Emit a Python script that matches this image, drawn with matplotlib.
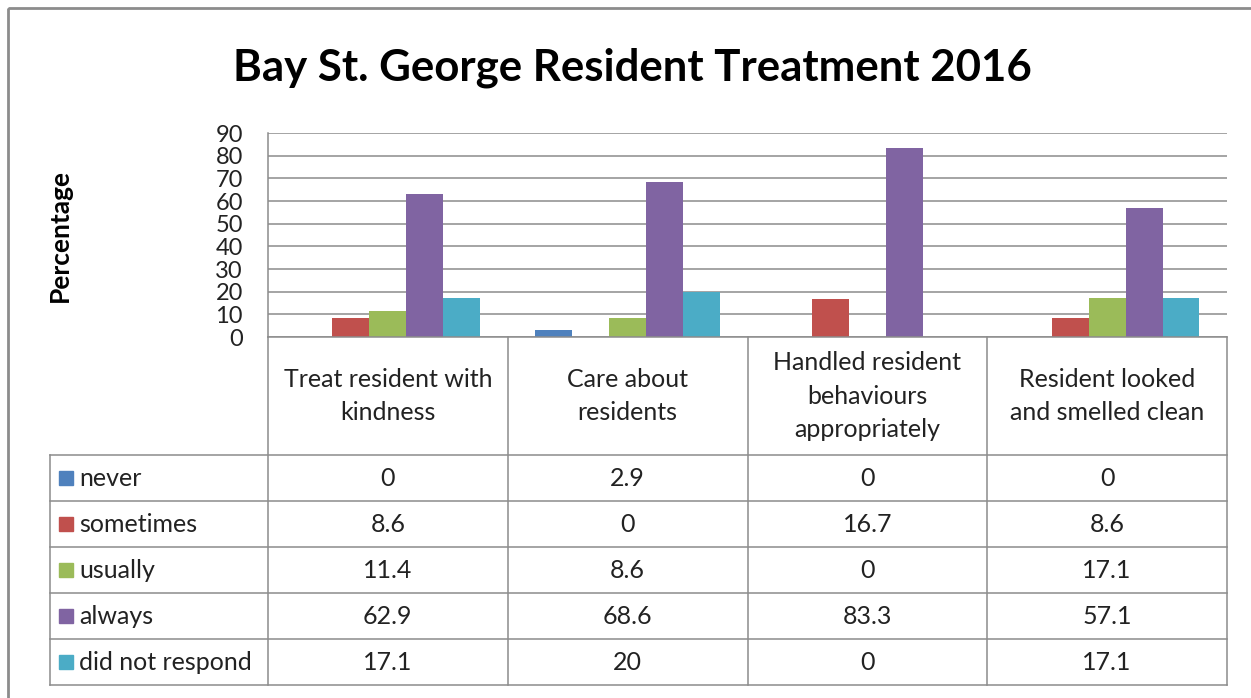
import matplotlib.pyplot as plt
from matplotlib.patches import Rectangle

categories = ["Treat resident with\nkindness", "Care about\nresidents",
              "Handled resident\nbehaviours\nappropriately",
              "Resident looked\nand smelled clean"]
series = ["never", "sometimes", "usually", "always", "did not respond"]
values = [
    [0, 2.9, 0, 0],
    [8.6, 0, 16.7, 8.6],
    [11.4, 8.6, 0, 17.1],
    [62.9, 68.6, 83.3, 57.1],
    [17.1, 20, 0, 17.1],
]
labels = [["0", "2.9", "0", "0"],
          ["8.6", "0", "16.7", "8.6"],
          ["11.4", "8.6", "0", "17.1"],
          ["62.9", "68.6", "83.3", "57.1"],
          ["17.1", "20", "0", "17.1"]]
colors = ["#4F81BD", "#C0504D", "#9BBB59", "#8064A2", "#4BACC6"]
yticks = list(range(0, 100, 10))

plt.rcParams['font.family'] = ['Lato', 'DejaVu Sans']
txt_col = "#222222"

W, H = 1251, 698
fig = plt.figure(figsize=(W / 100, H / 100), dpi=100)

# plot area in pixel coordinates
left, right, top, bottom = 268, 1227, 133, 337
ax = fig.add_axes([left / W, 1 - bottom / H, (right - left) / W, (bottom - top) / H])
bw = 0.154
for i, (name, vals) in enumerate(zip(series, values)):
    xs = [j + (i - 2) * bw for j in range(len(vals))]
    ax.bar(xs, vals, width=bw, color=colors[i], zorder=3)
ax.set_xlim(-0.5, len(categories) - 0.5)
ax.set_ylim(0, 90)
ax.set_yticks(yticks)
ax.set_yticklabels([str(t) for t in yticks], fontsize=17, color=txt_col)
ax.tick_params(axis='y', length=0, pad=18)
ax.set_xticks([])
ax.grid(axis='y', color="#8c8c8c", linewidth=1.1, zorder=0)
for s in ["top", "right", "bottom"]:
    ax.spines[s].set_visible(False)
ax.spines["left"].set_color("#8c8c8c")
ax.spines["left"].set_linewidth(1.1)

# overlay for border, title and data table, in pixel units
ov = fig.add_axes([0, 0, 1, 1], facecolor="none")
ov.set_xlim(0, W)
ov.set_ylim(H, 0)
ov.axis("off")
ov.add_patch(Rectangle((8, 8), W + 20, H + 20, fill=False, edgecolor="#8c8c8c", linewidth=2))
ov.text(632, 68, "Bay St. George Resident Treatment 2016", fontsize=31.5, fontweight="bold",
        ha="center", va="center")
ov.text(60, 235, "Percentage", fontsize=19, fontweight="bold", rotation=90,
        ha="center", va="center")

lc, lw = "#8c8c8c", 1.1
col_x = [left + k * (right - left) / len(categories) for k in range(len(categories) + 1)]
head_bot = 455
row_h = (685 - head_bot) / len(series)
row_y = [head_bot + k * row_h for k in range(len(series) + 1)]
tab_left = 50

# table grid
ov.plot([left, right], [bottom, bottom], color=lc, lw=lw)
for x in col_x:
    ov.plot([x, x], [bottom, row_y[-1]], color=lc, lw=lw)
for y in row_y:
    ov.plot([tab_left, right], [y, y], color=lc, lw=lw)
ov.plot([tab_left, tab_left], [head_bot, row_y[-1]], color=lc, lw=lw)

for j, cat in enumerate(categories):
    ov.text((col_x[j] + col_x[j + 1]) / 2, (bottom + head_bot) / 2, cat, fontsize=18,
            ha="center", va="center", linespacing=1.55, color=txt_col)

for i, name in enumerate(series):
    yc = (row_y[i] + row_y[i + 1]) / 2
    ov.add_patch(Rectangle((59, yc - 7), 14, 14, color=colors[i]))
    ov.text(79, yc, name, fontsize=18, ha="left", va="center", color=txt_col)
    for j in range(len(categories)):
        ov.text((col_x[j] + col_x[j + 1]) / 2, yc, labels[i][j], fontsize=18,
                ha="center", va="center", color=txt_col)

fig.savefig("out.png", dpi=100)
